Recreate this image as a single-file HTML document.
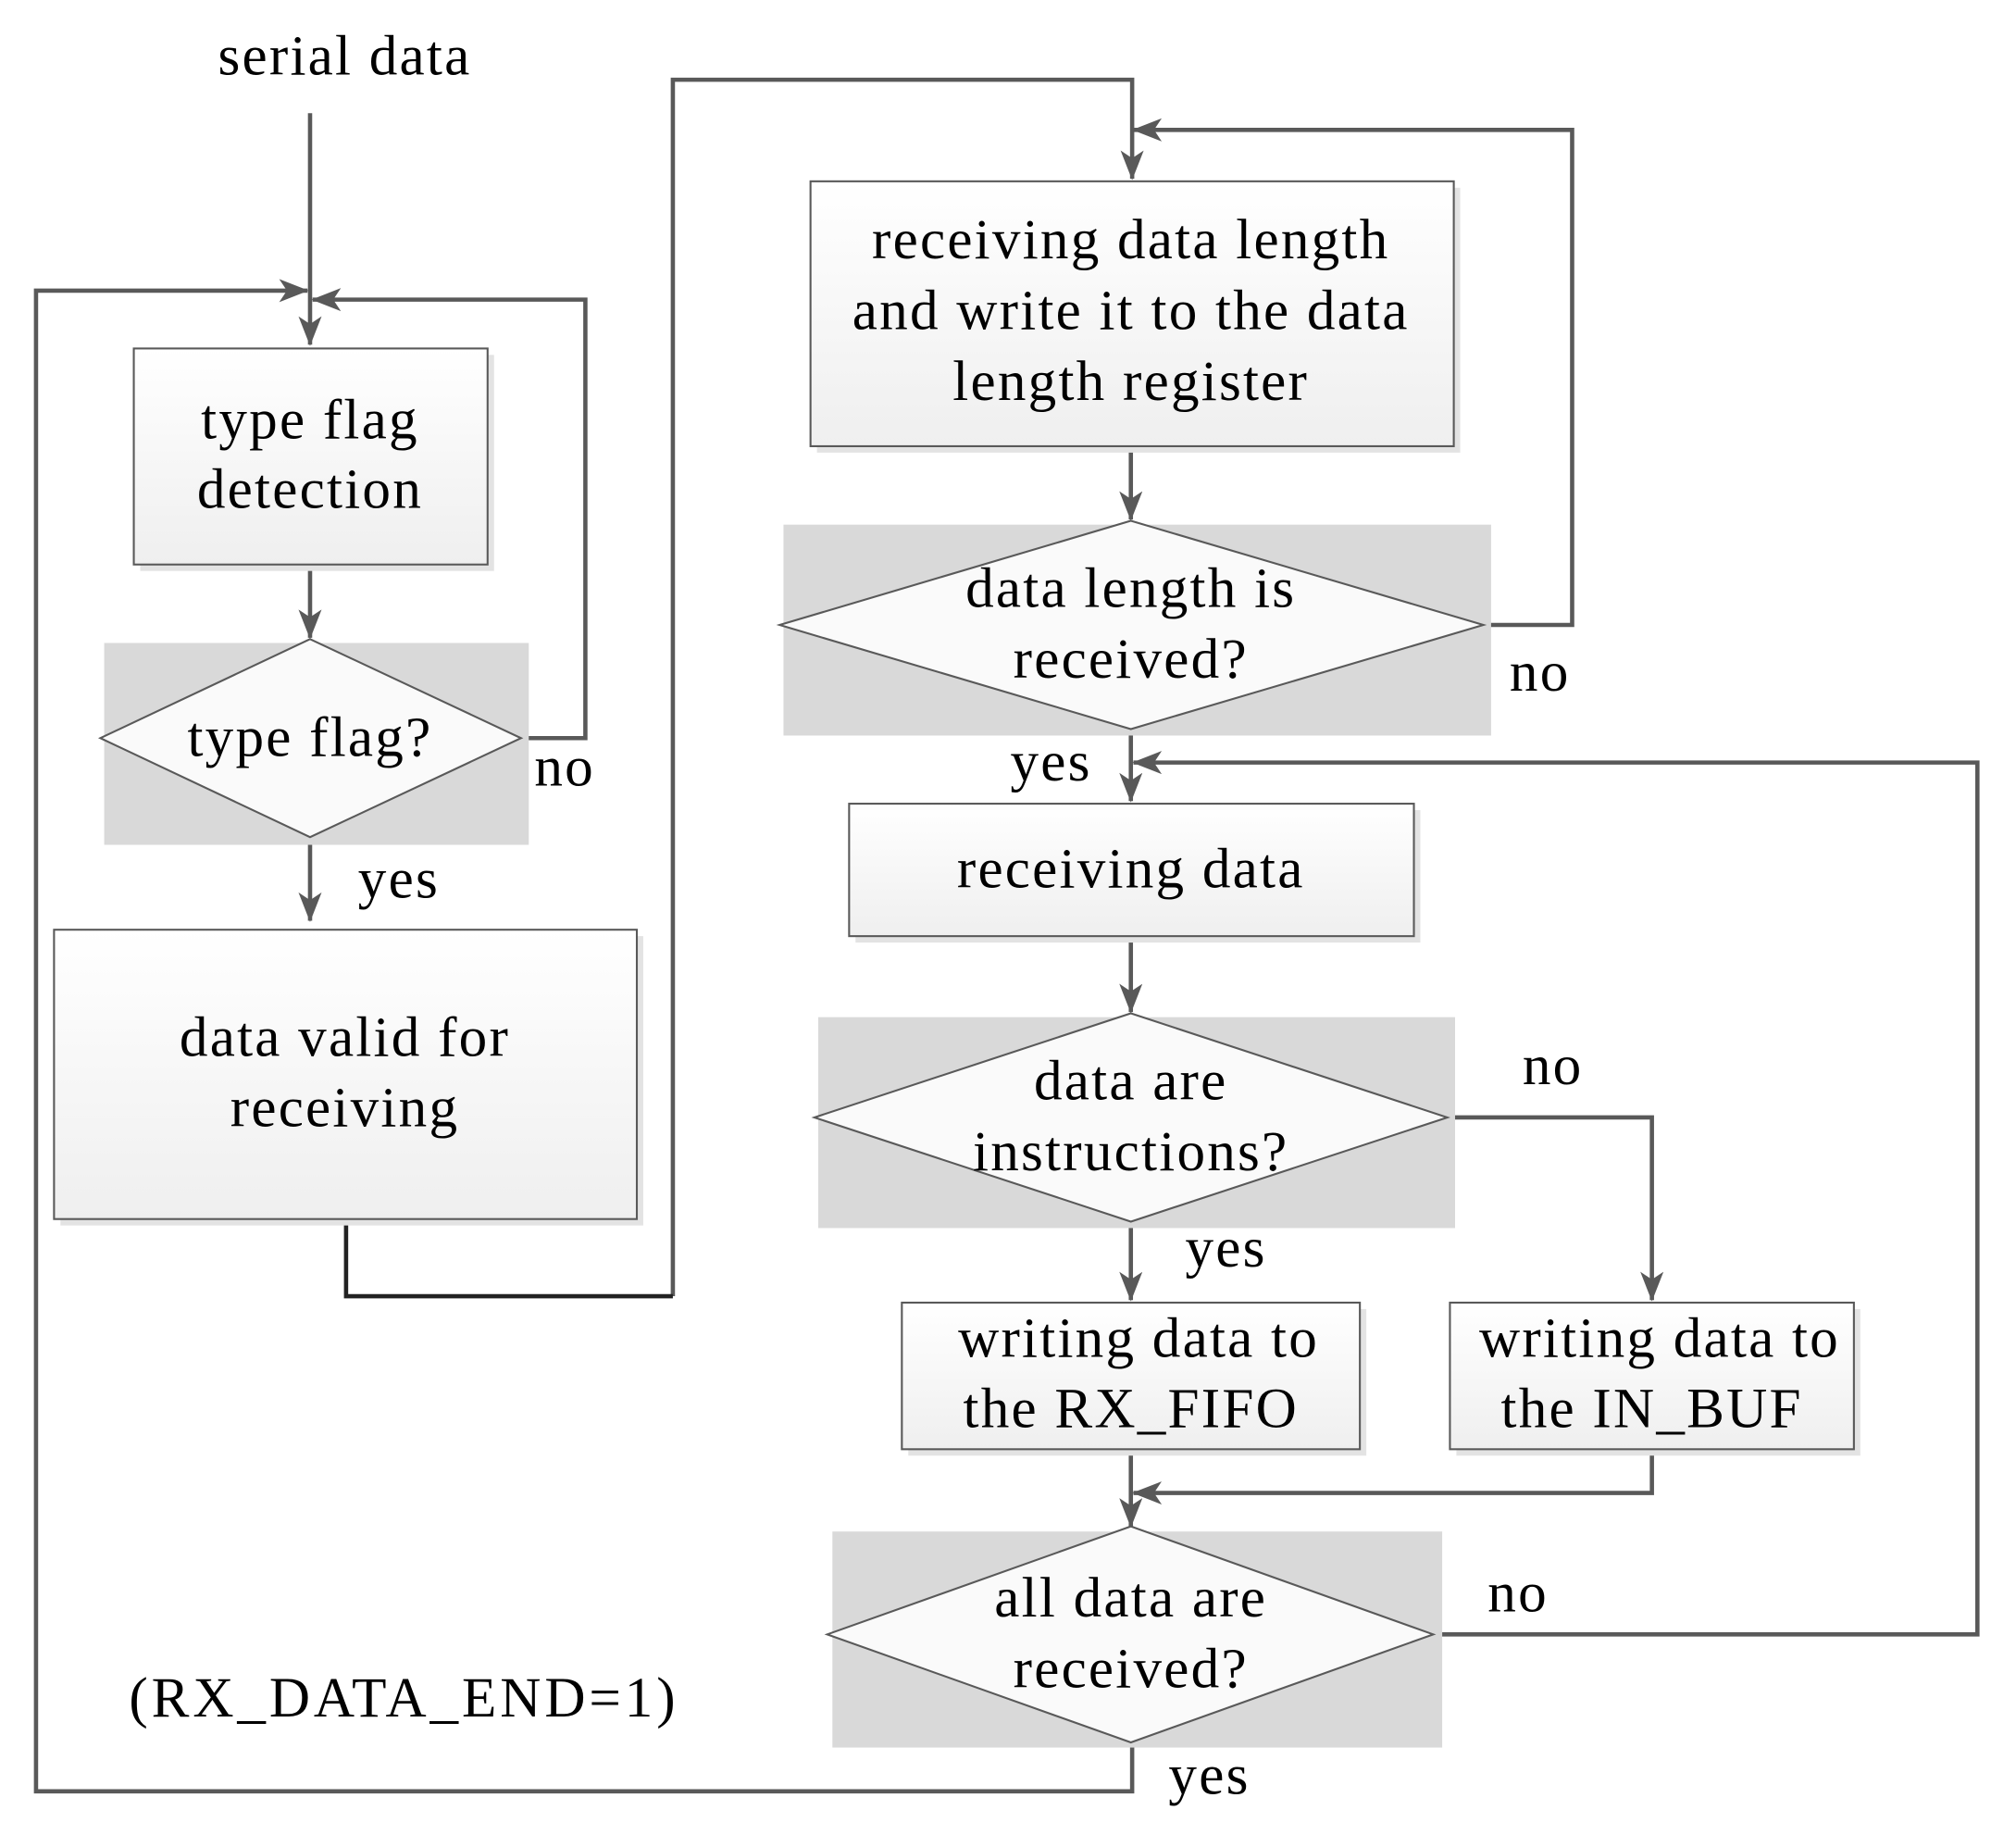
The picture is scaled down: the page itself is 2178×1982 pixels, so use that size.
<!DOCTYPE html>
<html><head><meta charset="utf-8"><style>
html,body{margin:0;padding:0;background:#fff}
svg{display:block}
text{font-family:"Liberation Serif",serif;font-size:44px;letter-spacing:1.6px;fill:#000;text-anchor:middle}
</style></head><body>
<svg width="2178" height="1982" viewBox="0 0 1567 1427" preserveAspectRatio="none" xmlns="http://www.w3.org/2000/svg">
<defs>
<linearGradient id="g" x1="0" y1="0" x2="0" y2="1"><stop offset="0" stop-color="#ffffff"/><stop offset="1" stop-color="#efefef"/></linearGradient>
<marker id="a" viewBox="0 0 23 18" refX="22" refY="9" markerWidth="23" markerHeight="18" markerUnits="userSpaceOnUse" orient="auto">
<path d="M0,0 L23,9 L0,18 L6,9 Z" fill="#595959"/></marker>
</defs>
<g fill="none" stroke="#595959" stroke-width="3.3">
<path d="M241,88 V268" marker-end="url(#a)"/>
<path d="M880,1355 V1393 H28 V226 H239" marker-end="url(#a)"/>
<path d="M405,574 H455 V233 H243" marker-end="url(#a)"/>
<path d="M241,439 V496" marker-end="url(#a)"/>
<path d="M241,651 V716" marker-end="url(#a)"/>
<path d="M523,1008 V62 H880 V139" marker-end="url(#a)"/>
<path d="M1153,486 H1222 V101 H881" marker-end="url(#a)"/>
<path d="M879,347 V404" marker-end="url(#a)"/>
<path d="M879,567 V623" marker-end="url(#a)"/>
<path d="M1114,1271 H1537 V593 H881" marker-end="url(#a)"/>
<path d="M879,728 V787" marker-end="url(#a)"/>
<path d="M1125,869 H1284 V1011" marker-end="url(#a)"/>
<path d="M879,950 V1011" marker-end="url(#a)"/>
<path d="M879,1127 V1187" marker-end="url(#a)"/>
<path d="M1284,1127 V1161 H881" marker-end="url(#a)"/>
<path d="M269,948 V1008 H523" stroke="#222"/>
</g>
<g fill="#d9d9d9">
<rect x="81" y="500" width="330" height="157"/>
<rect x="609" y="408" width="550" height="164"/>
<rect x="636" y="791" width="495" height="164"/>
<rect x="647" y="1191" width="474" height="168"/>
</g>
<g fill="#e3e3e3">
<rect x="109" y="276" width="275" height="168"/>
<rect x="47" y="728" width="453" height="225"/>
<rect x="635" y="146" width="500" height="206"/>
<rect x="665" y="630" width="439" height="103"/>
<rect x="706" y="1018" width="356" height="114"/>
<rect x="1132" y="1018" width="314" height="114"/>
</g>
<g fill="url(#g)" stroke="#595959" stroke-width="1.5">
<rect x="104" y="271" width="275" height="168"/>
<rect x="42" y="723" width="453" height="225"/>
<rect x="630" y="141" width="500" height="206"/>
<rect x="660" y="625" width="439" height="103"/>
<rect x="701" y="1013" width="356" height="114"/>
<rect x="1127" y="1013" width="314" height="114"/>
</g>
<g fill="#fafafa" stroke="#595959" stroke-width="1.5">
<polygon points="241,497 405,574 241,651 78,574"/>
<polygon points="879,405 1153,486 879,567 606,486"/>
<polygon points="879,788 1125,869 879,950 633,869"/>
<polygon points="879,1187 1114,1271 879,1355 643,1271"/>
</g>
<text x="268" y="58">serial data</text>
<text x="241" y="341">type flag</text>
<text x="241" y="395">detection</text>
<text x="241" y="588">type flag?</text>
<text x="439" y="611">no</text>
<text x="310" y="698">yes</text>
<text x="268" y="821">data valid for</text>
<text x="268" y="876">receiving</text>
<text x="879" y="201">receiving data length</text>
<text x="879" y="256">and write it to the data</text>
<text x="879" y="311">length register</text>
<text x="879" y="472">data length is</text>
<text x="879" y="527">received?</text>
<text x="1197" y="537">no</text>
<text x="817" y="607">yes</text>
<text x="879" y="690">receiving data</text>
<text x="879" y="855">data are</text>
<text x="879" y="910">instructions?</text>
<text x="1207" y="843">no</text>
<text x="953" y="985">yes</text>
<text x="885" y="1055">writing data to</text>
<text x="879" y="1110">the RX_FIFO</text>
<text x="1290" y="1055">writing data to</text>
<text x="1284" y="1110">the IN_BUF</text>
<text x="879" y="1257">all data are</text>
<text x="879" y="1312">received?</text>
<text x="1180" y="1253">no</text>
<text x="940" y="1395">yes</text>
<text x="314" y="1335" style="letter-spacing:2.8px">(RX_DATA_END=1)</text>
</svg>
</body></html>
